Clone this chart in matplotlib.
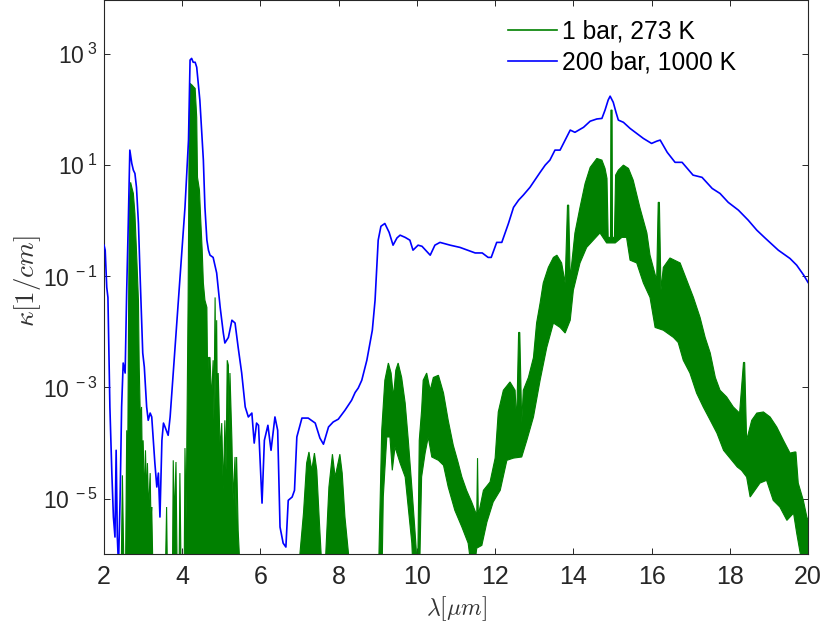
import matplotlib
matplotlib.use("Agg")
import matplotlib.pyplot as plt
import numpy as np
from matplotlib.lines import Line2D
from matplotlib.ticker import NullLocator

plt.rcParams['font.family'] = ['Liberation Sans', 'DejaVu Sans']
plt.rcParams['mathtext.fontset'] = 'custom'
plt.rcParams['mathtext.rm'] = 'Liberation Sans'
plt.rcParams['mathtext.it'] = 'Liberation Sans:italic'
plt.rcParams['mathtext.bf'] = 'Liberation Sans:bold'

# ---------------- data (wavelength in micrometres, log10 of kappa in 1/cm) ----------------
FLOOR = -6.3  # below the visible range (trace leaves the plot)

blue_wl = [2.00, 2.03, 2.07, 2.10, 2.15, 2.20, 2.24, 2.28, 2.31, 2.34,
           2.37, 2.41, 2.45, 2.49, 2.54, 2.58, 2.62, 2.66, 2.71, 2.75,
           2.79, 2.83, 2.88, 2.92, 2.99, 3.03, 3.09, 3.13, 3.18, 3.22,
           3.26, 3.30, 3.35, 3.39, 3.43, 3.48, 3.52, 3.56, 3.64, 3.69,
           3.77, 3.94, 4.07, 4.16, 4.20, 4.24, 4.28, 4.33, 4.37, 4.45,
           4.54, 4.58, 4.63, 4.67, 4.71, 4.79, 4.88, 4.97, 5.05, 5.09,
           5.18, 5.27, 5.35, 5.43, 5.52, 5.61, 5.69, 5.78, 5.84, 5.90,
           5.95, 6.04, 6.10, 6.19, 6.27, 6.37, 6.44, 6.50, 6.58, 6.65,
           6.71, 6.81, 6.87, 6.93, 7.06, 7.22, 7.40, 7.52, 7.61, 7.74,
           7.86, 7.99, 8.16, 8.33, 8.42, 8.50, 8.59, 8.72, 8.80, 8.86,
           8.93, 9.01, 9.08, 9.18, 9.29, 9.39, 9.49, 9.57, 9.70, 9.82,
           9.90, 10.03, 10.13, 10.34, 10.46, 10.59, 10.85, 11.10, 11.49, 11.67,
           11.82, 11.90, 12.04, 12.17, 12.34, 12.47, 12.60, 12.72, 12.89, 13.15,
           13.28, 13.40, 13.53, 13.66, 13.79, 13.92, 14.04, 14.26, 14.43, 14.60,
           14.73, 14.81, 14.89, 14.94, 15.02, 15.09, 15.15, 15.28, 15.45, 15.62,
           15.79, 16.00, 16.13, 16.22, 16.40, 16.60, 16.78, 17.06, 17.29, 17.55,
           17.75, 17.96, 18.22, 18.47, 18.69, 18.90, 19.24, 19.54, 19.71, 19.89,
           20.00]
blue_logk = [-0.44, -0.53, -1.20, -1.38, -3.35, -4.54, -5.33, -5.69, -4.13, -5.69,
             -6.20, -5.03, -3.35, -2.56, -2.74, -1.25, -0.05, 1.27, 1.03, 0.91,
             0.85, 0.60, -0.05, -0.94, -2.38, -2.63, -3.35, -3.59, -3.46, -3.53,
             -3.95, -4.36, -4.79, -4.54, -5.33, -3.95, -3.64, -3.71, -3.86, -3.53,
             -2.74, -1.07, 0.24, 1.45, 2.89, 2.92, 2.85, 2.85, 2.76, 2.17,
             1.09, 0.24, -0.35, -0.53, -0.62, -0.66, -0.94, -1.56, -2.02, -2.20,
             -2.10, -1.79, -1.84, -2.28, -2.74, -3.35, -3.53, -3.46, -4.00, -3.64,
             -3.68, -5.08, -3.95, -3.68, -4.13, -3.53, -3.77, -5.51, -5.80, -5.87,
             -5.03, -4.97, -4.85, -3.89, -3.55, -3.55, -3.64, -3.91, -4.02, -3.71,
             -3.62, -3.57, -3.41, -3.23, -3.09, -3.01, -2.87, -2.51, -2.20, -1.97,
             -1.43, -0.35, -0.10, -0.05, -0.21, -0.44, -0.31, -0.26, -0.30, -0.35,
             -0.53, -0.44, -0.46, -0.62, -0.44, -0.39, -0.44, -0.48, -0.58, -0.58,
             -0.66, -0.66, -0.39, -0.39, -0.05, 0.24, 0.37, 0.46, 0.60, 0.87,
             1.00, 1.09, 1.27, 1.27, 1.45, 1.63, 1.59, 1.68, 1.79, 1.83,
             1.84, 1.99, 2.17, 2.24, 2.13, 1.95, 1.81, 1.77, 1.66, 1.57,
             1.48, 1.39, 1.43, 1.45, 1.23, 1.05, 1.05, 0.82, 0.78, 0.58,
             0.49, 0.33, 0.19, 0.01, -0.17, -0.31, -0.53, -0.68, -0.80, -0.98,
             -1.11]

# upper envelope of the dense 1 bar / 273 K spectrum (wavelength, log10 kappa)
green_top = [
    (2.00, FLOOR), (2.44, FLOOR), (2.47, -4.58), (2.51, FLOOR), (2.55, FLOOR), (2.58, -3.77),
    (2.60, -5.03), (2.63, -1.43), (2.65, 0.37), (2.68, 0.69), (2.71, 0.60), (2.75, 0.49),
    (2.79, 0.13), (2.84, -0.71), (2.88, -1.43), (2.90, -2.63), (2.93, -3.59), (2.96, -3.35),
    (2.98, -4.49), (3.00, -3.95), (3.04, -5.03), (3.06, -4.13), (3.09, -5.03), (3.11, -4.36),
    (3.14, -5.21), (3.18, -4.54), (3.20, -5.39), (3.22, -5.15), (3.25, FLOOR), (3.57, FLOOR),
    (3.60, -5.15), (3.62, FLOOR), (3.75, FLOOR), (3.77, -4.31), (3.80, -5.39), (3.84, -4.34),
    (3.87, FLOOR), (3.92, FLOOR), (3.94, -4.54), (3.97, FLOOR), (4.05, FLOOR), (4.07, -4.09),
    (4.10, -5.39), (4.12, -3.77), (4.15, -1.43), (4.18, 1.81), (4.20, 2.47), (4.25, 2.44),
    (4.30, 2.40), (4.33, 2.38), (4.37, 1.86), (4.39, 0.78), (4.44, 0.55), (4.47, 0.06),
    (4.51, -0.53), (4.54, -1.12), (4.58, -1.43), (4.63, -1.56), (4.65, -2.87), (4.67, -2.46),
    (4.71, -2.46), (4.75, -3.23), (4.79, -2.51), (4.81, -3.59), (4.84, -1.38), (4.86, -3.23),
    (4.88, -1.79), (4.90, -3.59), (4.92, -2.74), (4.97, -4.13), (5.01, -3.64), (5.05, -4.85),
    (5.09, -3.59), (5.12, -4.49), (5.15, -2.51), (5.18, -2.60), (5.20, -3.77), (5.22, -2.74),
    (5.27, -3.95), (5.30, -5.03), (5.35, -4.25), (5.38, -5.39), (5.39, -4.25), (5.43, -5.57),
    (5.48, FLOOR),
    (6.99, FLOOR), (7.01, -5.98), (7.10, -5.26), (7.18, -4.36), (7.24, -4.16), (7.31, -4.49),
    (7.38, -4.18), (7.44, -4.49), (7.50, -5.33), (7.55, -5.98), (7.57, FLOOR), (7.63, FLOOR),
    (7.67, -5.98), (7.75, -4.79), (7.84, -4.20), (7.91, -4.61), (8.03, -4.20), (8.09, -4.54),
    (8.16, -5.33), (8.25, -5.98), (8.29, FLOOR),
    (9.01, FLOOR), (9.03, -5.98), (9.10, -3.77), (9.18, -2.87), (9.27, -2.56), (9.34, -2.74),
    (9.40, -3.17), (9.46, -2.69), (9.52, -2.56), (9.61, -2.82), (9.70, -3.28), (9.78, -3.95),
    (9.87, -4.79), (9.95, -5.57), (10.02, FLOOR), (10.06, -3.95), (10.12, -3.41), (10.16, -2.87),
    (10.25, -2.74), (10.34, -3.05), (10.42, -2.82), (10.55, -2.78), (10.68, -3.10), (10.80, -3.59),
    (10.93, -4.04), (11.05, -4.34), (11.15, -4.61), (11.27, -4.85), (11.40, -5.06), (11.53, -5.30),
    (11.55, -4.27), (11.57, -5.30), (11.70, -4.85), (11.87, -4.70), (12.00, -4.27), (12.08, -3.44),
    (12.21, -3.05), (12.38, -2.90), (12.51, -3.05), (12.55, -3.64), (12.60, -2.01), (12.63, -2.01),
    (12.68, -3.64), (12.72, -3.05), (12.85, -2.82), (12.98, -2.46), (13.06, -1.84), (13.15, -1.48),
    (13.23, -1.12), (13.36, -0.84), (13.49, -0.66), (13.58, -0.62), (13.70, -0.76), (13.79, -1.12),
    (13.85, 0.28), (13.88, 0.28), (13.92, -1.07), (13.96, -0.76), (14.04, -0.22), (14.17, 0.24),
    (14.30, 0.67), (14.43, 0.96), (14.60, 1.12), (14.73, 1.09), (14.81, 0.94), (14.86, 0.76),
    (14.89, -0.30), (14.95, -0.30), (14.96, 1.99), (14.99, 1.99), (15.00, -0.30), (15.05, -0.30),
    (15.08, 0.82), (15.15, 0.91), (15.28, 1.00), (15.41, 0.94), (15.53, 0.73), (15.70, 0.24),
    (15.88, -0.22), (15.96, -0.62), (16.13, -1.07), (16.17, 0.33), (16.20, 0.33), (16.24, -1.25),
    (16.30, -0.84), (16.47, -0.67), (16.73, -0.76), (16.90, -1.07), (17.07, -1.38), (17.24, -1.74),
    (17.37, -2.10), (17.50, -2.38), (17.63, -2.82), (17.75, -3.05), (17.92, -3.17), (18.09, -3.35),
    (18.25, -3.46), (18.35, -2.55), (18.38, -2.55), (18.43, -3.95), (18.56, -3.59), (18.69, -3.46),
    (18.86, -3.44), (19.03, -3.53), (19.20, -3.71), (19.37, -3.95), (19.54, -4.18), (19.66, -4.16),
    (19.69, -4.16), (19.75, -4.72), (19.88, -5.03), (19.97, -5.33), (20.00, -5.39)]

# lower envelope of the same spectrum
green_bottom = [
    (2.00, FLOOR), (9.11, FLOOR), (9.14, -4.97), (9.23, -3.89), (9.31, -3.89), (9.37, -4.49),
    (9.44, -4.07), (9.57, -4.36), (9.70, -4.61), (9.87, -5.80), (9.90, FLOOR), (10.07, FLOOR),
    (10.12, -4.61), (10.21, -4.18), (10.29, -3.89), (10.38, -4.25), (10.55, -4.31), (10.68, -4.40),
    (10.80, -4.79), (10.97, -5.21), (11.15, -5.51), (11.31, -5.80), (11.40, FLOOR), (11.46, FLOOR),
    (11.53, -5.89), (11.66, -5.84), (11.79, -5.42), (11.95, -5.06), (12.13, -4.85), (12.30, -4.31),
    (12.47, -4.27), (12.68, -4.25), (12.81, -3.95), (12.98, -3.53), (13.15, -2.87), (13.32, -2.28),
    (13.49, -1.84), (13.66, -1.92), (13.79, -2.02), (13.92, -1.79), (14.00, -1.25), (14.17, -0.76),
    (14.34, -0.48), (14.51, -0.35), (14.68, -0.22), (14.85, -0.40), (14.98, -0.40), (15.07, -0.40),
    (15.24, -0.30), (15.36, -0.30), (15.45, -0.71), (15.62, -0.76), (15.79, -1.12), (15.96, -1.38),
    (16.09, -1.92), (16.30, -1.97), (16.56, -2.10), (16.68, -2.19), (16.81, -2.51), (16.98, -2.74),
    (17.15, -3.10), (17.32, -3.35), (17.50, -3.59), (17.67, -3.82), (17.84, -4.13), (18.05, -4.31),
    (18.19, -4.43), (18.30, -4.49), (18.43, -4.61), (18.52, -4.97), (18.77, -4.72), (18.94, -4.67),
    (19.11, -5.03), (19.28, -5.15), (19.46, -5.39), (19.63, -5.26), (19.71, -5.62), (19.80, -5.98),
    (19.85, FLOOR), (20.00, FLOOR)]

series_labels = ['1 bar, 273 K', '200 bar, 1000 K']
x_ticks = [2, 4, 6, 8, 10, 12, 14, 16, 18, 20]
y_tick_exponents = [-5, -3, -1, 1, 3]

GREEN = '#008000'
BLUE = '#0000FF'
AXC = '#262626'

# ---------------- figure ----------------
fig = plt.figure(figsize=(8.21, 6.30), dpi=100)
ax = fig.add_axes([0.1267, 0.1202, 0.8575, 0.8798])

top = np.array(green_top)
bot = np.array(green_bottom)
poly_x = np.concatenate([top[:, 0], bot[::-1, 0]])
poly_y = 10.0 ** np.concatenate([top[:, 1], bot[::-1, 1]])
ax.fill(poly_x, poly_y, facecolor=GREEN, edgecolor=GREEN, lw=0.8, zorder=2)

ax.plot(blue_wl, 10.0 ** np.array(blue_logk), color=BLUE, lw=1.2, zorder=3)

ax.set_yscale('log')
ax.set_xlim(2, 20)
ax.set_ylim(1e-6, 10 ** 3.97)
ax.set_xticks(x_ticks)
ax.set_xticklabels([str(t) for t in x_ticks])
ax.set_yticks([10.0 ** e for e in y_tick_exponents])
ax.set_yticklabels([r'$10^{\;%d}$' % e for e in y_tick_exponents])
ax.yaxis.set_minor_locator(NullLocator())
ax.xaxis.set_minor_locator(NullLocator())

ax.tick_params(which='both', direction='in', top=True, right=True, length=4.3,
               width=0.7, color=AXC, labelcolor=AXC)
ax.tick_params(axis='x', pad=8, labelsize=18)
ax.tick_params(axis='y', pad=5, labelsize=16.5)
for s in ax.spines.values():
    s.set_color(AXC)
    s.set_linewidth(0.8)

ax.set_xlabel(r'$\lambda [\mu m]$', fontsize=17, color='#333333', math_fontfamily='cm')
ax.set_ylabel(r'$\kappa [1/cm]$', fontsize=19.4, color='#333333', math_fontfamily='cm')
ax.xaxis.set_label_coords(0.5, -0.073)
ax.yaxis.set_label_coords(-0.087, 0.493)

handles = [Line2D([], [], color=GREEN, lw=1.2), Line2D([], [], color=BLUE, lw=1.2)]
ax.legend(handles, series_labels, loc='upper left',
          bbox_to_anchor=(508 / 821, 1 - 20 / 630), bbox_transform=fig.transFigure,
          frameon=False, fontsize=17.7, handlelength=2.0, handletextpad=0.2,
          borderpad=0, borderaxespad=0, labelspacing=0.28)

fig.savefig('out.png', dpi=100)
